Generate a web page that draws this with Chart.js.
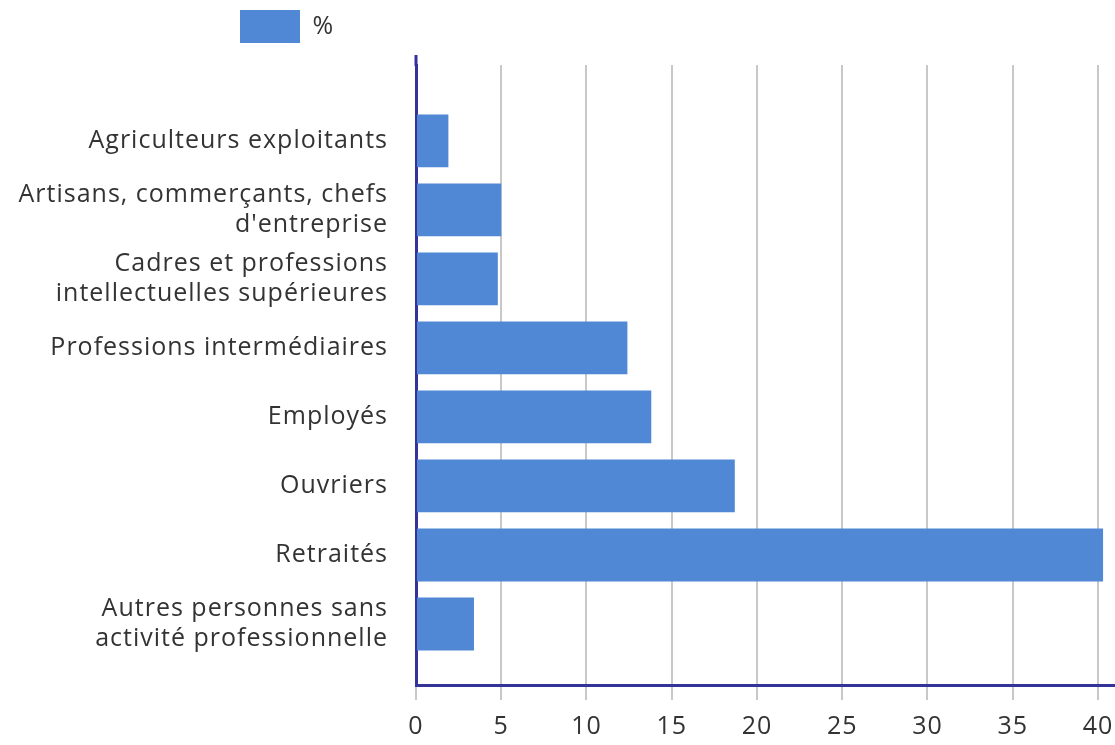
<!DOCTYPE html>
<html>
<head>
<meta charset="utf-8">
<script src="https://cdn.jsdelivr.net/npm/chart.js@4.4.0/dist/chart.umd.min.js"></script>
<style>
  html, body { margin: 0; padding: 0; background: #ffffff; }
  #wrap { width: 1115px; height: 745px; position: relative; }
</style>
</head>
<body>
<div id="wrap"><canvas id="c" width="1115" height="745"></canvas></div>
<script>
// ---- Data ----
const categories = [
  ['Agriculteurs exploitants'],
  ['Artisans, commerçants, chefs', "d'entreprise"],
  ['Cadres et professions', 'intellectuelles supérieures'],
  ['Professions intermédiaires'],
  ['Employés'],
  ['Ouvriers'],
  ['Retraités'],
  ['Autres personnes sans', 'activité professionnelle']
];
const seriesLabel = '%';
const percentValues = [1.9, 5.0, 4.8, 12.4, 13.8, 18.7, 40.3, 3.4];
const xTickStep = 5;
const xMax = 41;

// ---- Styles ----
const FONT = "'Open Sans', 'Noto Sans', sans-serif";
const TEXT = '#333333';
const BAR = '#5088d5';
const AXIS = '#33339a';
const GRID = '#c8c8c8';
const LETTER_SPACING = '1px';

const points = percentValues.map((v, i) => ({ x: v, y: i }));

const textSpacing = {
  id: 'textSpacing',
  beforeUpdate(chart) { chart.ctx.letterSpacing = LETTER_SPACING; },
  beforeLayout(chart) { chart.ctx.letterSpacing = LETTER_SPACING; },
  beforeDraw(chart) {
    chart.ctx.letterSpacing = LETTER_SPACING;
    if (chart.legend) { chart.legend.top = 0; chart.legend.left = 230; }
  },
  afterDraw(chart) {
    const ctx = chart.ctx, a = chart.chartArea;
    ctx.save();
    ctx.strokeStyle = AXIS;
    ctx.lineWidth = 3;
    ctx.beginPath();
    ctx.moveTo(a.left, a.top - 10);
    ctx.lineTo(a.left, a.top + 1);
    ctx.stroke();
    ctx.restore();
  }
};

new Chart(document.getElementById('c'), {
  type: 'bar',
  data: {
    datasets: [{
      label: seriesLabel,
      data: points,
      backgroundColor: BAR,
      borderWidth: 0,
      barPercentage: 0.765,
      categoryPercentage: 1
    }]
  },
  options: {
    indexAxis: 'y',
    responsive: false,
    animation: false,
    layout: { padding: { top: 12, left: 0, right: 0, bottom: 0 } },
    plugins: {
      tooltip: { enabled: false },
      legend: {
        display: true,
        position: 'top',
        align: 'start',
        labels: {
          boxWidth: 60,
          boxHeight: 33,
          padding: 10,
          color: TEXT,
          font: { family: FONT, size: 25 }
        }
      }
    },
    scales: {
      x: {
        type: 'linear',
        position: 'bottom',
        min: 0,
        max: xMax,
        afterFit: s => { s.height = 60; s.paddingLeft = 0; s.paddingRight = 0; },
        grid: {
          color: GRID,
          lineWidth: 2,
          drawTicks: true,
          tickLength: 15,
          tickColor: GRID
        },
        border: { display: true, color: AXIS, width: 3 },
        ticks: {
          stepSize: xTickStep,
          includeBounds: false,
          padding: 12,
          color: TEXT,
          font: { family: FONT, size: 25 }
        }
      },
      y: {
        type: 'linear',
        reverse: true,
        offset: false,
        min: -1.10,
        max: 7.884,
        afterFit: s => { s.width = 416; s.paddingTop = 0; s.paddingBottom = 0; },
        afterBuildTicks: s => { s.ticks = categories.map((_, i) => ({ value: i })); },
        grid: { display: false, drawTicks: false, tickLength: 0, offset: false },
        border: { display: true, color: AXIS, width: 3 },
        ticks: {
          padding: 28,
          color: TEXT,
          font: { family: FONT, size: 25, lineHeight: 1.2 },
          callback: v => categories[v]
        }
      }
    }
  },
  plugins: [textSpacing]
});
</script>
</body>
</html>
